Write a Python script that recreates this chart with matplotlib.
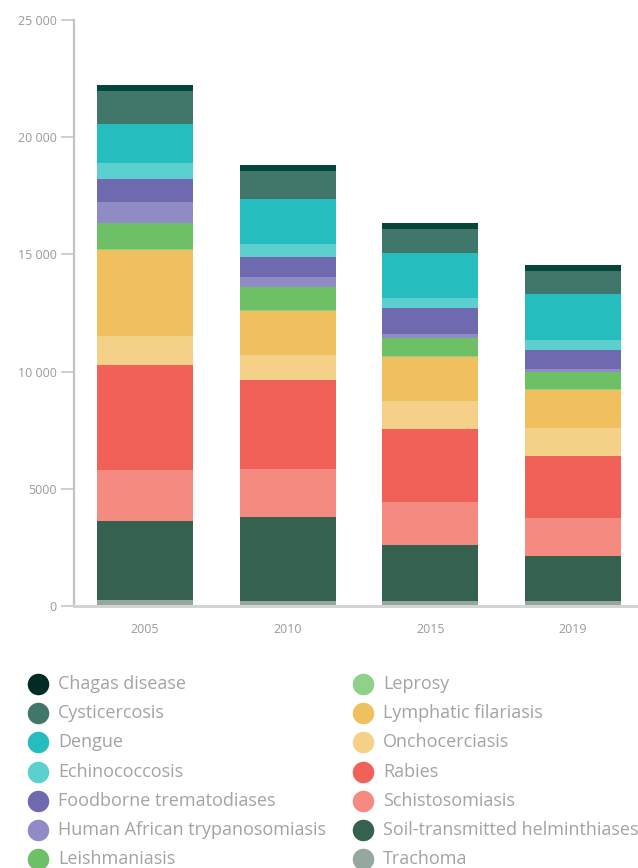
import matplotlib
matplotlib.use("Agg")
import matplotlib.pyplot as plt
import numpy as np

plt.rcParams["font.family"] = ["Open Sans", "DejaVu Sans"]

years = ["2005", "2010", "2015", "2019"]

# legend order (alphabetical); bars stack in the reverse order
diseases = [
    "Chagas disease", "Cysticercosis", "Dengue", "Echinococcosis",
    "Foodborne trematodiases", "Human African trypanosomiasis", "Leishmaniasis",
    "Leprosy", "Lymphatic filariasis", "Onchocerciasis", "Rabies",
    "Schistosomiasis", "Soil-transmitted helminthiases", "Trachoma",
]
colors = [
    "#05463a", "#41776a", "#26bdbf", "#5ccfcf",
    "#6f6ab0", "#908bc4", "#6dc066",
    "#8fd08a", "#f0bf5e", "#f4d088", "#f26157",
    "#f58a80", "#37614f", "#94a89e",
]
# legend swatches: Chagas is drawn darker there
legend_colors = ["#032b26"] + colors[1:]

chagas = [245, 255, 255, 255]
cysticercosis = [1380, 1195, 1025, 980]
dengue = [1665, 1920, 1920, 1960]
echinococcosis = [680, 555, 430, 430]
foodborne = [980, 855, 1110, 810]
hat = [895, 395, 170, 115]
leishmaniasis = [1150, 1010, 770, 740]
leprosy = [25, 25, 25, 30]
lymphatic_filariasis = [3670, 1875, 1875, 1635]
onchocerciasis = [1235, 1065, 1195, 1195]
rabies = [4480, 3800, 3115, 2645]
schistosomiasis = [2175, 2045, 1835, 1620]
sth = [3370, 3585, 2390, 1920]
trachoma = [255, 215, 215, 215]

series = [
    chagas, cysticercosis, dengue, echinococcosis, foodborne, hat, leishmaniasis,
    leprosy, lymphatic_filariasis, onchocerciasis, rabies, schistosomiasis, sth, trachoma,
]

fig = plt.figure(figsize=(6.38, 8.68), dpi=100)
ax = fig.add_axes([0.116, 0.3018, 0.882, 0.6752])

x = np.arange(len(years))
bottom = np.zeros(len(years))
for vals, col in zip(reversed(series), reversed(colors)):
    v = np.array(vals, dtype=float)
    ax.bar(x, v, bottom=bottom, width=0.673, color=col, linewidth=0)
    bottom += v

ax.set_xlim(-0.4975, 3.448)
ax.set_ylim(0, 25000)
yt = [0, 5000, 10000, 15000, 20000, 25000]
ax.set_yticks(yt, ["0", "5000", "10 000", "15 000", "20 000", "25 000"])
ax.set_xticks(x, years)

for s in ("top", "right"):
    ax.spines[s].set_visible(False)
ax.spines["left"].set_color("#c4c4c4")
ax.spines["left"].set_linewidth(1.6)
ax.spines["bottom"].set_color("#d4d4d4")
ax.spines["bottom"].set_linewidth(2.2)
ax.tick_params(axis="y", length=9.5, width=1.4, color="#cfcfcf",
               labelcolor="#9a9a9a", labelsize=9, pad=3)
ax.tick_params(axis="x", length=0, labelcolor="#9a9a9a", labelsize=9, pad=12)

# legend drawn in a pixel-space overlay
lax = fig.add_axes([0, 0, 1, 1], facecolor="none")
lax.set_xlim(0, 638)
lax.set_ylim(868, 0)
lax.axis("off")
for i, (name, col) in enumerate(zip(diseases, legend_colors)):
    column, row = divmod(i, 7)
    cx = 38 + column * 325
    cy = 684 + row * 29.2
    lax.scatter([cx], [cy], s=240, color=col, linewidths=0)
    lax.text(cx + 20, cy, name, fontsize=13, color="#a3a3a3", va="center", ha="left")

fig.savefig("out.png", dpi=100)
